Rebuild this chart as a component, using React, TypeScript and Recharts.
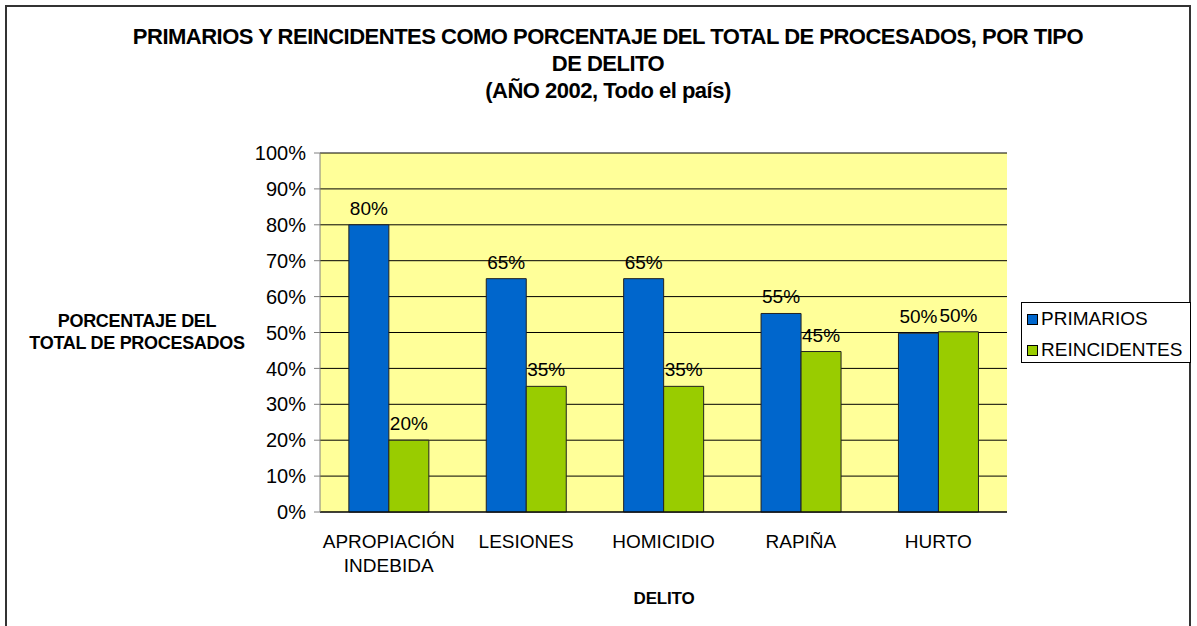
import { BarChart, Bar, XAxis, YAxis, CartesianGrid, LabelList } from 'recharts';

const categories = ['APROPIACIÓN INDEBIDA', 'LESIONES', 'HOMICIDIO', 'RAPIÑA', 'HURTO'];
const primarios = [80, 65, 65, 55.3, 49.8];
const reincidentes = [20, 35, 35, 44.7, 50.2];
const yTicks = [0, 10, 20, 30, 40, 50, 60, 70, 80, 90, 100];
const boundaryTicks = [0, 1, 2, 3, 4, 5];
const titleLines = [
  'PRIMARIOS Y REINCIDENTES COMO PORCENTAJE DEL TOTAL DE PROCESADOS, POR TIPO',
  'DE DELITO',
  '(AÑO 2002, Todo el país)',
];
const yLabelLines = ['PORCENTAJE DEL', 'TOTAL DE PROCESADOS'];

const FONT = '"Liberation Sans", Arial, sans-serif';
const BLUE = '#0066CC';
const GREEN = '#99CC00';

const data = categories.map((name, i) => ({
  name,
  primarios: primarios[i],
  reincidentes: reincidentes[i],
}));

const CatTick = ({ x, y, payload }: any) => {
  const lines = String(payload.value).split(' ');
  return (
    <text x={x} y={y} textAnchor="middle" fontSize={19} fill="#000" fontFamily={FONT}>
      {lines.map((l, i) => (
        <tspan key={i} x={x} dy={i === 0 ? 28 : 24}>
          {l}
        </tspan>
      ))}
    </text>
  );
};

const pct = (v: any) => `${Math.round(Number(v))}%`;

export default function App() {
  return (
    <div style={{ position: 'absolute', left: 0, top: 0, width: 1197, height: 626, background: '#fff', fontFamily: FONT }}>
      <div
        style={{
          position: 'absolute',
          left: 5,
          top: 5,
          width: 1186,
          height: 640,
          border: '2px solid #333',
          boxSizing: 'border-box',
        }}
      />
      <div style={{ position: 'absolute', left: 0, top: 23, width: 1216, textAlign: 'center', fontWeight: 'bold', fontSize: 22, letterSpacing: -0.5, lineHeight: '27px' }}>
        {titleLines.map((l, i) => (
          <div key={i}>{l}</div>
        ))}
      </div>
      <div style={{ position: 'absolute', left: 17, top: 310, width: 240, textAlign: 'center', fontWeight: 'bold', fontSize: 18, letterSpacing: -0.3, lineHeight: '22px' }}>
        {yLabelLines.map((l, i) => (
          <div key={i}>{l}</div>
        ))}
      </div>
      <div style={{ position: 'absolute', left: 564, top: 589, width: 200, textAlign: 'center', fontWeight: 'bold', fontSize: 17, letterSpacing: -0.2 }}>
        DELITO
      </div>
      <div style={{ position: 'absolute', left: 0, top: 0 }}>
        <BarChart
          width={1197}
          height={626}
          data={data}
          margin={{ top: 153, right: 190, bottom: 54, left: 240 }}
          barCategoryGap="21%"
          barGap={0}
        >
          <CartesianGrid vertical={false} horizontal stroke="#000" fill="#FFFF99" fillOpacity={1} />
          <XAxis
            xAxisId="b"
            type="number"
            domain={[0, 5]}
            ticks={boundaryTicks}
            tick={false}
            axisLine={false}
            tickLine={{ stroke: '#808080' }}
            tickSize={6}
            height={0}
          />
          <XAxis
            xAxisId="cat"
            dataKey="name"
            height={60}
            axisLine={{ stroke: '#000' }}
            tickLine={false}
            tick={<CatTick />}
            interval={0}
          />
          <XAxis xAxisId="top" orientation="top" height={0} tick={false} tickLine={false} axisLine={{ stroke: '#808080' }} />
          <YAxis
            domain={[0, 100]}
            ticks={yTicks}
            interval={0}
            tickFormatter={(v) => `${v}%`}
            width={80}
            axisLine={{ stroke: '#808080' }}
            tickLine={{ stroke: '#808080' }}
            tickSize={6}
            tickMargin={8}
            tick={{ fontSize: 20, fill: '#000', fontFamily: FONT }}
          />
          <YAxis yAxisId="right" orientation="right" width={0} tick={false} tickLine={false} axisLine={{ stroke: '#808080' }} />
          <Bar dataKey="primarios" xAxisId="cat" fill={BLUE} stroke="#222" strokeWidth={1} isAnimationActive={false}>
            <LabelList dataKey="primarios" position="top" offset={10} formatter={pct} fontSize={19} fill="#000" fontFamily={FONT} />
          </Bar>
          <Bar dataKey="reincidentes" xAxisId="cat" fill={GREEN} stroke="#222" strokeWidth={1} isAnimationActive={false}>
            <LabelList dataKey="reincidentes" position="top" offset={10} formatter={pct} fontSize={19} fill="#000" fontFamily={FONT} />
          </Bar>
        </BarChart>
      </div>
      <div
        style={{
          position: 'absolute',
          left: 1021,
          top: 302,
          width: 170,
          height: 61,
          border: '1px solid #000',
          boxSizing: 'border-box',
          background: '#fff',
          fontSize: 19,
        }}
      >
        {[
          { label: 'PRIMARIOS', color: BLUE },
          { label: 'REINCIDENTES', color: GREEN },
        ].map((it, i) => (
          <div key={i} style={{ position: 'absolute', left: 5, top: 6 + i * 31, display: 'flex', alignItems: 'center', whiteSpace: 'nowrap' }}>
            <span style={{ display: 'inline-block', width: 9, height: 9, background: it.color, border: '1px solid #000', marginRight: 3 }} />
            <span style={{ lineHeight: '20px' }}>{it.label}</span>
          </div>
        ))}
      </div>
    </div>
  );
}
